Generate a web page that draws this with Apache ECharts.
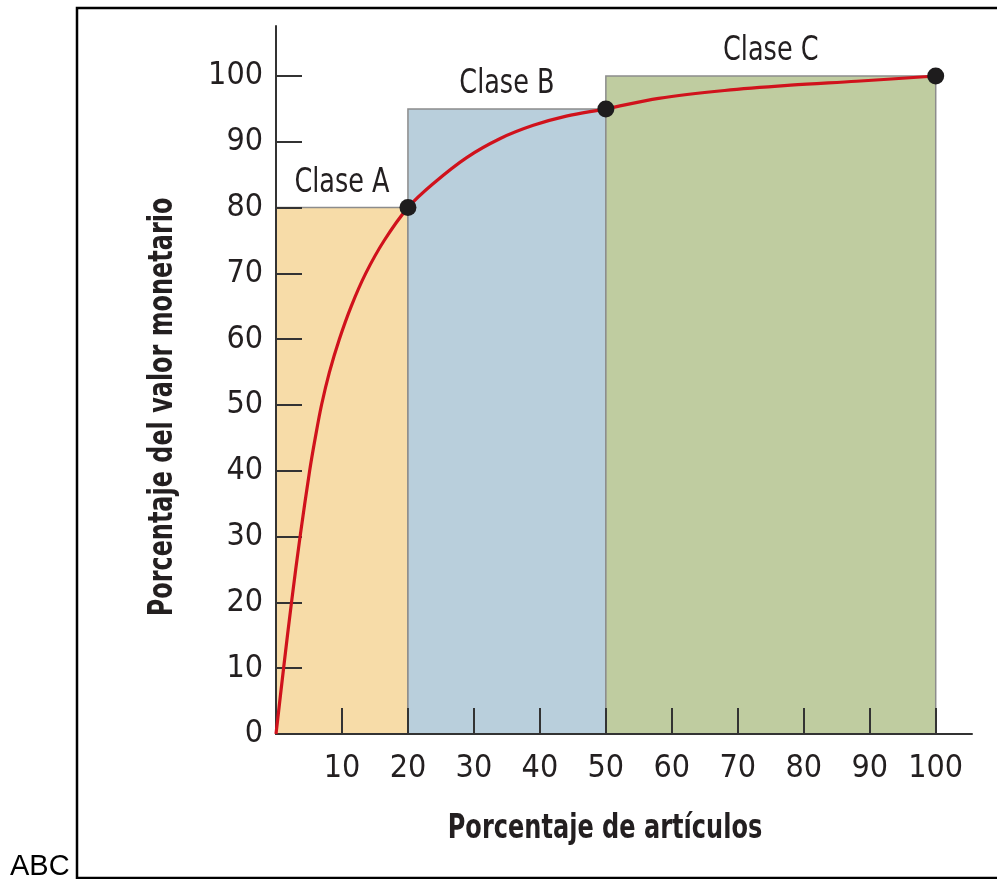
<!DOCTYPE html>
<html>
<head>
<meta charset="utf-8">
<script src="https://cdn.jsdelivr.net/npm/echarts@6/dist/echarts.min.js"></script>
<style>
html,body{margin:0;padding:0;background:#fff;}
#chart{width:997px;height:879px;}
</style>
</head>
<body>
<div id="chart"></div>
<script>
// ---- data ----
const xTickValues = [10, 20, 30, 40, 50, 60, 70, 80, 90, 100];
const yTickValues = [0, 10, 20, 30, 40, 50, 60, 70, 80, 90, 100];
const classNames = ['Clase A', 'Clase B', 'Clase C'];
const classStart = [0, 20, 50];
const classEnd = [20, 50, 100];
const classTop = [80, 95, 100];
const classColors = ['#F7DCA8', '#B9CFDC', '#BFCCA0'];
const curveX = [0, 1.15, 2.35, 3.65, 5.1, 5.95, 6.9, 8.1, 9.6, 11.4, 13.6, 16.4, 20, 23.9, 28.9, 34, 39, 44, 50, 58, 68, 78, 88, 100];
const curveY = [0, 10, 20, 30, 40, 45, 50, 55, 60, 65, 70, 75, 80, 83.7, 87.6, 90.5, 92.5, 93.9, 95, 96.6, 97.8, 98.6, 99.2, 100];
const pointX = [20, 50, 100];
const pointY = [80, 95, 100];
const xTitle = 'Porcentaje de artículos';
const yTitle = 'Porcentaje del valor monetario';
const cornerText = 'ABC';

const FONT = '"Liberation Sans Narrow", "DejaVu Sans Condensed", "Liberation Sans", sans-serif';
const TXT = '#231F20';

const chart = echarts.init(document.getElementById('chart'));

const rectData = classNames.map((n, i) => [classStart[i], classEnd[i], classTop[i], i]);
const curveData = curveX.map((x, i) => [x, curveY[i]]);
const pointData = pointX.map((x, i) => [x, pointY[i]]);

const option = {
  animation: false,
  backgroundColor: '#fff',
  grid: { left: 276, top: 26, right: 25, bottom: 145, containLabel: false },
  xAxis: {
    type: 'value', min: 0, max: 105.5, z: 3,
    splitLine: { show: false },
    axisLine: { lineStyle: { color: '#333', width: 2 } },
    axisTick: { inside: true, length: 26, customValues: xTickValues, lineStyle: { color: '#333', width: 2 } },
    axisLabel: { customValues: xTickValues, fontFamily: FONT, fontSize: 32, color: TXT, margin: 19 }
  },
  yAxis: {
    type: 'value', min: 0, max: 107.6, z: 3,
    splitLine: { show: false },
    axisLine: { lineStyle: { color: '#333', width: 2 } },
    axisTick: { inside: true, length: 26, customValues: yTickValues.filter(v => v > 0), lineStyle: { color: '#333', width: 2 } },
    axisLabel: { customValues: yTickValues, fontFamily: FONT, fontSize: 32, color: TXT, margin: 13 }
  },
  graphic: [
    { type: 'polyline', shape: { points: [[997, 8], [77, 8], [77, 878], [997, 878]] }, style: { stroke: '#000', lineWidth: 2.5, fill: null } },
    { type: 'text', x: 10, y: 881, style: { text: cornerText, font: '29px "Liberation Sans", Arial, sans-serif', fill: '#000', verticalAlign: 'bottom' } },
    { type: 'text', x: 605, y: 829, scaleX: 0.81, style: { text: xTitle, font: 'bold 33px ' + FONT, fill: TXT, align: 'center', verticalAlign: 'middle' } },
    { type: 'text', x: 163, y: 407, rotation: Math.PI / 2, scaleX: 0.806, style: { text: yTitle, font: 'bold 33px ' + FONT, fill: TXT, align: 'center', verticalAlign: 'middle' } }
  ],
  series: [
    {
      type: 'custom', z: 1,
      data: rectData,
      renderItem: function (params, api) {
        const s = api.value(0), e = api.value(1), t = api.value(2), idx = api.value(3);
        const p0 = api.coord([s, 0]);
        const p1 = api.coord([e, t]);
        return {
          type: 'group',
          children: [
            { type: 'rect', shape: { x: p0[0], y: p1[1], width: p1[0] - p0[0], height: p0[1] - p1[1] },
              style: { fill: classColors[idx], stroke: '#8C8C8C', lineWidth: 1.5 } },
            { type: 'text', x: (p0[0] + p1[0]) / 2, y: p1[1] - 8, scaleX: 0.86,
              style: { text: classNames[idx], font: '33px ' + FONT, fill: TXT, align: 'center', verticalAlign: 'bottom' } }
          ]
        };
      }
    },
    {
      type: 'line', z: 4, data: curveData, showSymbol: false, smooth: 0.35,
      lineStyle: { color: '#D0121C', width: 3.2 }
    },
    {
      type: 'scatter', z: 5, data: pointData, symbolSize: 17,
      itemStyle: { color: '#1E1C1D', opacity: 1 }
    }
  ]
};
chart.setOption(option);
</script>
</body>
</html>
